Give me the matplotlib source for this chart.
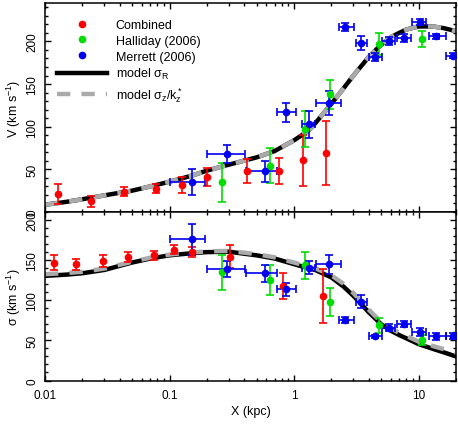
import numpy as np
import matplotlib
matplotlib.use('Agg')
import matplotlib.pyplot as plt
from matplotlib import ticker
from matplotlib.lines import Line2D

plt.rcParams['font.family'] = ['Liberation Sans', 'DejaVu Sans']
plt.rcParams['mathtext.default'] = 'regular'

# Combined (red) - rotation curve and dispersion use different radii
red_x_v = [0.0128, 0.0233, 0.0432, 0.0782, 0.126, 0.2, 0.418, 0.754, 1.18, 1.82]
red_v = [21, 12.5, 23.7, 27.3, 31.3, 40.5, 48, 48, 60.5, 69]
red_v_err = [11.7, 6.2, 5.2, 5.2, 9.2, 10.5, 14.5, 15.5, 30, 37.5]
red_x_s = [0.0118, 0.0178, 0.0294, 0.0468, 0.0744, 0.108, 0.151, 0.307, 0.817, 1.71]
red_s = [147, 145, 149, 154, 156, 162.7, 160.2, 154.5, 118, 105.5]
red_s_err = [9, 6.7, 8, 6.6, 5.7, 5.6, 6.3, 13.8, 16, 33.3]

# Halliday (2006) - green
green_x = [0.264, 0.646, 1.23, 1.95, 4.82, 10.7]
green_v = [34.6, 54, 97, 137.8, 197, 202.8]
green_v_err = [22.5, 20.5, 21, 17.5, 13.2, 9]
green_s = [134.6, 125.4, 143.7, 98, 69, 50.8]
green_s_err = [22.4, 19, 17, 17.4, 9.2, 6.5]

# Merrett (2006) - blue, radial bins
blue_x = [0.151, 0.29, 0.58, 0.87, 1.31, 1.9, 2.59, 3.48, 4.5, 5.78, 7.6, 10.2, 13.8, 18.8]
blue_xlo = [0.1, 0.2, 0.41, 0.73, 1.16, 1.5, 2.29, 3.12, 3.99, 5.11, 6.76, 8.9, 12.1, 16.5]
blue_xhi = [0.193, 0.407, 0.73, 1.03, 1.47, 2.4, 3.02, 3.87, 5.11, 6.53, 8.63, 11.4, 16.5, 21.5]
blue_v = [35.4, 67.7, 47.5, 117, 102.7, 128, 216.8, 198, 181.8, 200.8, 204, 222.6, 205.9, 183.3]
blue_v_err = [15.5, 10.5, 12.3, 11.2, 16, 14.2, 5, 8.6, 5, 4.5, 4.5, 3.5, 3.3, 3.3]
blue_s = [176, 138.7, 133.7, 113.8, 140.8, 145, 75.6, 98, 55, 66, 70.3, 61, 55, 55.7]
blue_s_err = [19, 9.7, 10.4, 8.2, 7.6, 11.7, 4, 8.2, 2, 4, 4, 5, 4, 4]

# model curves
model_x = [0.01, 0.015, 0.02, 0.03, 0.05, 0.07, 0.1, 0.15, 0.2, 0.3, 0.5, 0.7, 1.0, 1.3,
           1.5, 2.0, 2.5, 3.0, 4.0, 5.0, 6.0, 7.0, 8.0, 10.0, 13.0, 16.0, 20.0]
model_v = [8.5, 12, 15, 19.5, 25, 30, 35.5, 42.5, 48.5, 55.5, 64, 71.5, 84, 95,
           105, 127, 145, 160, 182, 196, 205, 210, 214, 217.5, 217.5, 215.5, 212]
model_sR = [130.4, 132, 133.7, 137.8, 147, 152, 156, 158.6, 160, 160.5, 156, 152, 145, 140,
            137.4, 128.4, 117, 105.5, 84.8, 70.3, 62, 56.6, 52.5, 45.4, 39.5, 35, 30]
model_sz = [132.5, 134, 135.5, 139.5, 148, 153, 157, 159.5, 161, 161.5, 157.5, 153.5, 147, 142,
            139.5, 131, 120.5, 109, 88, 73, 65, 59.5, 55.5, 48.5, 43, 39, 35]

W, H = 458, 427
fig = plt.figure(figsize=(W / 100, H / 100), dpi=100)
ax1 = fig.add_axes([45 / W, 1 - 213 / H, 411 / W, 209 / H])
ax2 = fig.add_axes([45 / W, 1 - 381.5 / H, 411 / W, 168.5 / H], sharex=ax1)

def style(ax):
    ax.set_xscale('log')
    ax.set_xlim(0.01, 20)
    for s in ax.spines.values():
        s.set_linewidth(1.1)
    ax.tick_params(which='both', direction='in', top=True, right=True, width=1.0)
    ax.tick_params(which='major', length=4.5, labelsize=8.5)
    ax.tick_params(which='minor', length=2.5)
    ax.tick_params(axis='x', pad=6)
    ax.yaxis.set_major_locator(ticker.MultipleLocator(50))
    ax.yaxis.set_minor_locator(ticker.MultipleLocator(10))
    ax.tick_params(axis='y', labelrotation=90, pad=5)
    for lab in ax.get_yticklabels():
        lab.set_va('center')

def model(ax, y1, y2):
    ax.plot(model_x, y1, color='black', lw=3.2, zorder=2)
    ax.plot(model_x, y2, color='#aaaaaa', lw=3.2, dashes=(3, 2.5), zorder=2)

def points(ax, rx, ry, re, gy, ge, by, be):
    kw = dict(fmt='o', ms=4.5, elinewidth=1.2, capsize=3, capthick=1.2, zorder=3)
    bxerr = [np.array(blue_x) - np.array(blue_xlo), np.array(blue_xhi) - np.array(blue_x)]
    ax.errorbar(rx, ry, yerr=re, color='red', **kw)
    ax.errorbar(green_x, gy, yerr=ge, color='#00dd00', **kw)
    ax.errorbar(blue_x, by, xerr=bxerr, yerr=be, color='#0000ee', **kw)

model(ax1, model_v, model_v)
points(ax1, red_x_v, red_v, red_v_err, green_v, green_v_err, blue_v, blue_v_err)
model(ax2, model_sR, model_sz)
points(ax2, red_x_s, red_s, red_s_err, green_s, green_s_err, blue_s, blue_s_err)

style(ax1)
style(ax2)
ax1.set_ylim(0, 245)
ax2.set_ylim(0, 210)
ax1.tick_params(axis='x', labelbottom=False)
ax2.xaxis.set_major_formatter(ticker.FuncFormatter(lambda v, p: f'{v:g}'))
ax2.xaxis.set_minor_formatter(ticker.NullFormatter())

ax1.set_ylabel('V (km s$^{-1}$)', fontsize=9, labelpad=2)
ax2.set_ylabel('σ (km s$^{-1}$)', fontsize=9, labelpad=2)
ax2.set_xlabel('X (kpc)', fontsize=9, labelpad=3)

handles = [
    Line2D([], [], ls='none', marker='o', ms=4.5, color='red'),
    Line2D([], [], ls='none', marker='o', ms=4.5, color='#00dd00'),
    Line2D([], [], ls='none', marker='o', ms=4.5, color='#0000ee'),
    Line2D([], [], color='black', lw=3.2),
    Line2D([], [], color='#aaaaaa', lw=3.2, dashes=(3, 2.5)),
]
labels = ['Combined', 'Halliday (2006)', 'Merrett (2006)',
          'model σ$_R$', 'model σ$_z$/k$_z^*$']
ax1.legend(handles, labels, loc='upper left', bbox_to_anchor=(12 / 411, 1 - 16 / 209),
           frameon=False, fontsize=9, handlelength=4, handletextpad=0.7,
           labelspacing=0.3, borderpad=0, borderaxespad=0)

fig.savefig('out.png', dpi=100)
